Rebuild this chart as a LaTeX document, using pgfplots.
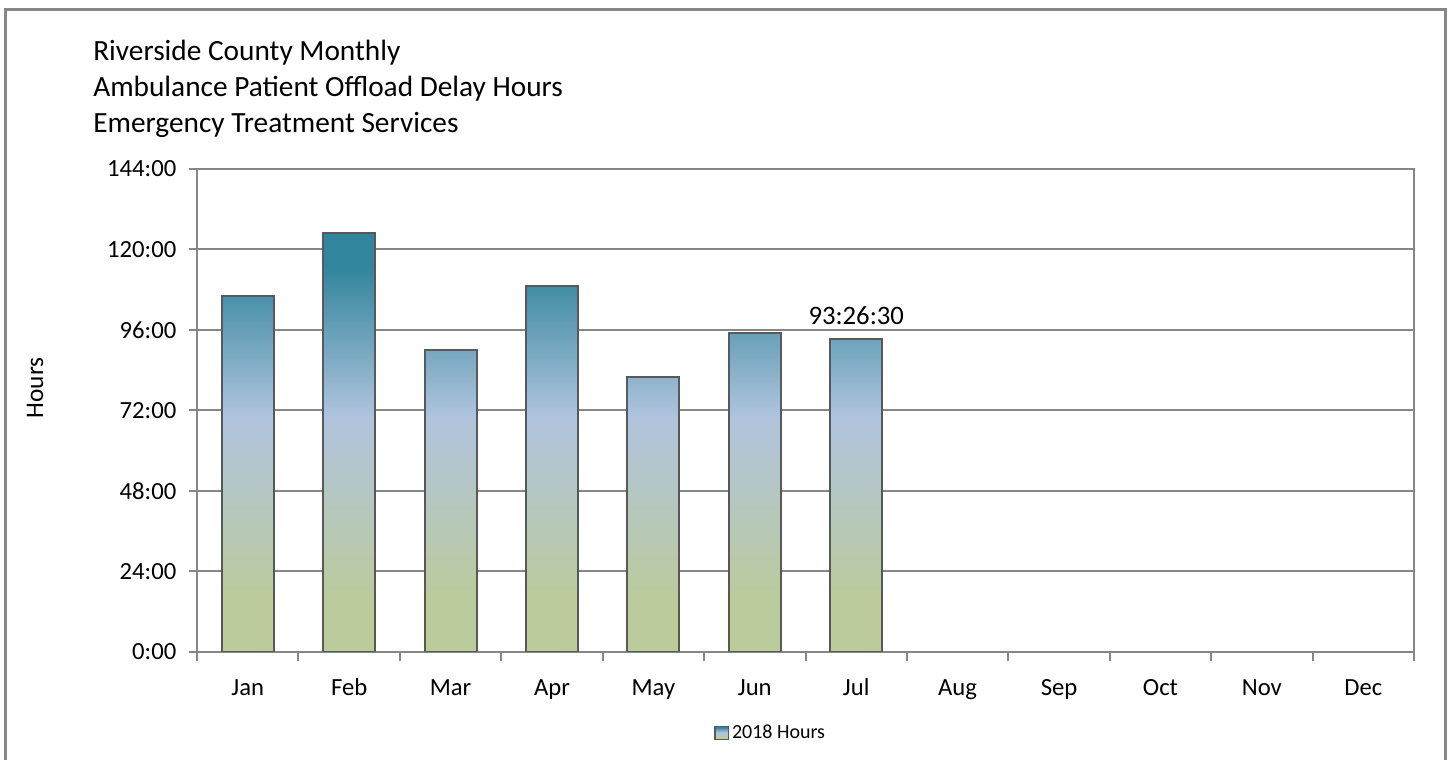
\documentclass[border=0pt]{standalone}
\usepackage{pgfplots}
\pgfplotsset{compat=1.18}
\usepackage{fontspec}
\setmainfont{Carlito}

\definecolor{barteal}{RGB}{49,133,156}
\definecolor{barblue}{RGB}{176,196,222}
\definecolor{bargreen}{RGB}{187,203,155}
\definecolor{axgray}{RGB}{134,134,134}
\definecolor{bardraw}{RGB}{89,89,89}
\pgfdeclareverticalshading{barshade}{100bp}{color(0bp)=(bargreen); color(31bp)=(bargreen); color(53bp)=(barblue); color(71bp)=(barteal); color(100bp)=(barteal)}

\begin{document}
\begin{tikzpicture}
% canvas: 1 px of the reference = 0.75pt
\useasboundingbox (0,0) rectangle (1089.75pt,570pt);
\draw[axgray, line width=2pt] (4pt,0) -- (4pt,562.9pt) -- (1084pt,562.9pt) -- (1084pt,0);

\node[anchor=base west, inner sep=0, font=\fontsize{22}{24}\selectfont] at (69.75pt,524.25pt) {Riverside County Monthly};
\node[anchor=base west, inner sep=0, font=\fontsize{22}{24}\selectfont] at (69.75pt,497.25pt) {Ambulance Patient Offload Delay Hours};
\node[anchor=base west, inner sep=0, font=\fontsize{22}{24}\selectfont] at (69.75pt,470.25pt) {Emergency Treatment Services};
\node[rotate=90, inner sep=0, font=\fontsize{19}{22}\selectfont] at (26.25pt,279pt) {Hours};

\begin{axis}[
    at={(147.75pt,81pt)}, anchor=south west,
    scale only axis,
    width=912.75pt, height=362.25pt,
    ybar, bar width=39pt,
    xmin=-0.5, xmax=11.5,
    ymin=0, ymax=144,
    xtick={0,...,11},
    xticklabels={Jan,Feb,Mar,Apr,May,Jun,Jul,Aug,Sep,Oct,Nov,Dec},
    minor xtick={-0.5,0.5,...,11.5},
    ytick={0,24,...,144},
    yticklabels={0:00,24:00,48:00,72:00,96:00,120:00,144:00},
    xtick pos=bottom, ytick pos=left,
    tick align=outside,
    major tick length=6pt, minor tick length=6.75pt,
    major x tick style={draw=none},
    tick style={axgray, line width=1.5pt},
    axis line style={axgray, line width=1.5pt},
    ymajorgrids,
    major grid style={axgray, line width=1.5pt},
    ticklabel style={font=\fontsize{18.5}{20}\selectfont},
    xticklabel style={yshift=-11pt, text height=12pt, text depth=4pt},
    yticklabel style={xshift=-6pt},
    point meta=explicit symbolic,
    nodes near coords,
    nodes near coords style={font=\fontsize{20}{22}\selectfont, text=black, yshift=6pt},
    legend style={at={(0.4717,-0.1677)}, anchor=center, draw=none, fill=none,
        font=\fontsize{15}{16}\selectfont},
    legend image code/.code={\draw[bardraw, line width=1.2pt, shading=barshade] (0pt,-5pt) rectangle (10pt,5pt);},
]
\addplot[draw=bardraw, line width=1.5pt, shading=barshade] coordinates {
    (0,106.1) []
    (1,124.9) []
    (2,90.0) []
    (3,109.1) []
    (4,81.9) []
    (5,95.0) []
    (6,93.44) [93:26:30]
};
\legend{2018 Hours}
\end{axis}
\end{tikzpicture}
\end{document}
